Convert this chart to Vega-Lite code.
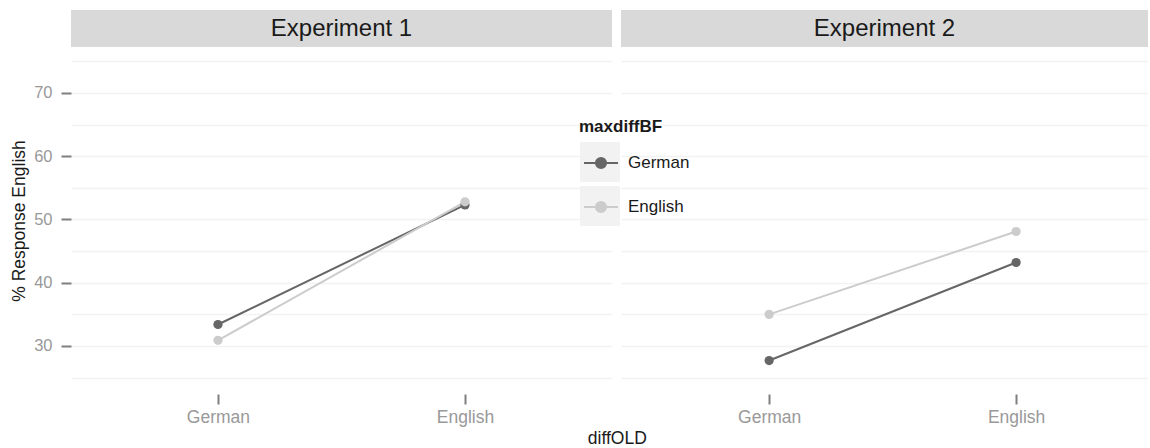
{
  "$schema": "https://vega.github.io/schema/vega-lite/v6.json",
  "padding": {"left": 10, "top": 10, "right": 0, "bottom": 0},
  "background": "white",
  "datasets": {
    "main": [
      {"experiment": "Experiment 1", "diffOLD": "German", "maxdiffBF": "German", "pct": 33.4},
      {"experiment": "Experiment 1", "diffOLD": "English", "maxdiffBF": "German", "pct": 52.3},
      {"experiment": "Experiment 1", "diffOLD": "German", "maxdiffBF": "English", "pct": 30.9},
      {"experiment": "Experiment 1", "diffOLD": "English", "maxdiffBF": "English", "pct": 52.8},
      {"experiment": "Experiment 2", "diffOLD": "German", "maxdiffBF": "German", "pct": 27.7},
      {"experiment": "Experiment 2", "diffOLD": "English", "maxdiffBF": "German", "pct": 43.2},
      {"experiment": "Experiment 2", "diffOLD": "German", "maxdiffBF": "English", "pct": 35.0},
      {"experiment": "Experiment 2", "diffOLD": "English", "maxdiffBF": "English", "pct": 48.1}
    ],
    "strips": [
      {"experiment": "Experiment 1"},
      {"experiment": "Experiment 2"}
    ]
  },
  "title": {
    "text": "diffOLD", "orient": "bottom", "anchor": "middle",
    "fontSize": 17.5, "fontWeight": "normal", "color": "#1a1a1a",
    "font": "Liberation Sans", "offset": 4, "dx": 38
  },
  "spacing": 9,
  "hconcat": [
    {
      "spacing": 0,
      "bounds": "flush",
      "vconcat": [
        {
          "width": 541, "height": 37,
          "data": {"name": "strips"},
          "transform": [{"filter": "datum.experiment === 'Experiment 1'"}],
          "view": {"fill": "#d9d9d9", "stroke": null},
          "mark": {"type": "text", "fontSize": 24, "color": "#1a1a1a", "font": "Liberation Sans"},
          "encoding": {"text": {"field": "experiment", "type": "nominal"}}
        },
        {
          "width": 541, "height": 347,
          "data": {"name": "main"},
          "transform": [{"filter": "datum.experiment === 'Experiment 1'"}],
          "encoding": {
            "x": {
              "field": "diffOLD", "type": "nominal", "sort": ["German", "English"],
              "scale": {"type": "point", "padding": 0.595},
              "axis": {"title": null, "domain": false, "grid": false, "tickSize": 10, "tickWidth": 2,
                       "tickColor": "#7f7f7f", "labelFontSize": 17.5, "labelColor": "#999999",
                       "labelPadding": 4, "labelAngle": 0}
            },
            "y": {
              "field": "pct", "type": "quantitative",
              "scale": {"domain": [22.41, 77.27], "nice": false, "zero": false},
              "axis": {
                "title": "% Response English",
                "values": [25, 30, 35, 40, 45, 50, 55, 60, 65, 70, 75],
                "grid": true, "gridColor": "#f2f2f2", "gridWidth": 1.5,
                "domain": false, "tickSize": 10, "tickWidth": 2,
                "tickColor": {"condition": {"test": "datum.value % 10 === 0", "value": "#7f7f7f"}, "value": "transparent"},
                "labelExpr": "datum.value % 10 === 0 ? datum.label : ''",
                "labelFontSize": 16.5, "labelColor": "#999999", "labelPadding": 9,
                "titleFontSize": 17.5, "titleFontWeight": "normal", "titleColor": "#1a1a1a", "titlePadding": 5
              }
            },
            "color": {
              "field": "maxdiffBF", "type": "nominal",
              "scale": {"domain": ["German", "English"], "range": ["#666666", "#cccccc"]},
              "legend": {
                "orient": "none", "legendX": 508, "legendY": 109, "zindex": 2,
                "title": "maxdiffBF", "titleFontSize": 17, "titleFontWeight": "bold", "titleColor": "#1a1a1a",
                "titlePadding": 9, "labelFontSize": 17, "labelColor": "#1a1a1a", "labelOffset": 9,
                "symbolType": "M-1,0H1M0.3,0A0.3,0.3,0,1,1,-0.3,0A0.3,0.3,0,1,1,0.3,0Z",
                "symbolSize": 1156, "symbolStrokeWidth": 2, "symbolOffset": 4, "rowPadding": 16,
                "encode": {
                  "symbols": {"update": {
                    "fill": {"scale": "color", "field": "value"},
                    "stroke": {"scale": "color", "field": "value"},
                    "strokeWidth": {"value": 2},
                    "opacity": {"value": 1}
                  }}
                }
              }
            }
          },
          "layer": [
            {"mark": {"type": "line", "strokeWidth": 2}},
            {
              "mark": {"type": "circle", "size": 85},
              "encoding": {
                "opacity": {
                  "field": "maxdiffBF", "type": "ordinal",
                  "scale": {"domain": ["English", "German"], "range": [1, 1]},
                  "legend": {
                    "orient": "none", "legendX": 509, "legendY": 132, "zindex": 1,
                    "title": null, "labelExpr": "''", "labelFontSize": 1,
                    "symbolType": "square", "symbolSize": 1600, "symbolFillColor": "#f2f2f2",
                    "symbolStrokeColor": "transparent", "symbolStrokeWidth": 0, "rowPadding": 4,
                    "encode": {
                      "symbols": {"update": {
                        "fill": {"value": "#f2f2f2"},
                        "stroke": {"value": "transparent"},
                        "opacity": {"value": 1}
                      }}
                    }
                  }
                }
              }
            }
          ]
        }
      ]
    },
    {
      "spacing": 0,
      "bounds": "flush",
      "vconcat": [
        {
          "width": 527, "height": 37,
          "data": {"name": "strips"},
          "transform": [{"filter": "datum.experiment === 'Experiment 2'"}],
          "view": {"fill": "#d9d9d9", "stroke": null},
          "mark": {"type": "text", "fontSize": 24, "color": "#1a1a1a", "font": "Liberation Sans"},
          "encoding": {"text": {"field": "experiment", "type": "nominal"}}
        },
        {
          "width": 527, "height": 347,
          "data": {"name": "main"},
          "transform": [{"filter": "datum.experiment === 'Experiment 2'"}],
          "encoding": {
            "x": {
              "field": "diffOLD", "type": "nominal", "sort": ["German", "English"],
              "scale": {"type": "point", "padding": 0.567, "align": 0.529},
              "axis": {"title": null, "domain": false, "grid": false, "tickSize": 10, "tickWidth": 2,
                       "tickColor": "#7f7f7f", "labelFontSize": 17.5, "labelColor": "#999999",
                       "labelPadding": 4, "labelAngle": 0}
            },
            "y": {
              "field": "pct", "type": "quantitative",
              "scale": {"domain": [22.41, 77.27], "nice": false, "zero": false},
              "axis": {
                "title": null,
                "values": [25, 30, 35, 40, 45, 50, 55, 60, 65, 70, 75],
                "grid": true, "gridColor": "#f2f2f2", "gridWidth": 1.5,
                "domain": false, "ticks": false, "labels": false
              }
            },
            "color": {
              "field": "maxdiffBF", "type": "nominal",
              "scale": {"domain": ["German", "English"], "range": ["#666666", "#cccccc"]}
            }
          },
          "layer": [
            {"mark": {"type": "line", "strokeWidth": 2}},
            {"mark": {"type": "circle", "size": 85, "opacity": 1}}
          ]
        }
      ]
    }
  ],
  "config": {
    "font": "Liberation Sans",
    "view": {"stroke": null},
    "axis": {"labelFont": "Liberation Sans", "titleFont": "Liberation Sans"},
    "legend": {"labelFont": "Liberation Sans", "titleFont": "Liberation Sans"}
  }
}
